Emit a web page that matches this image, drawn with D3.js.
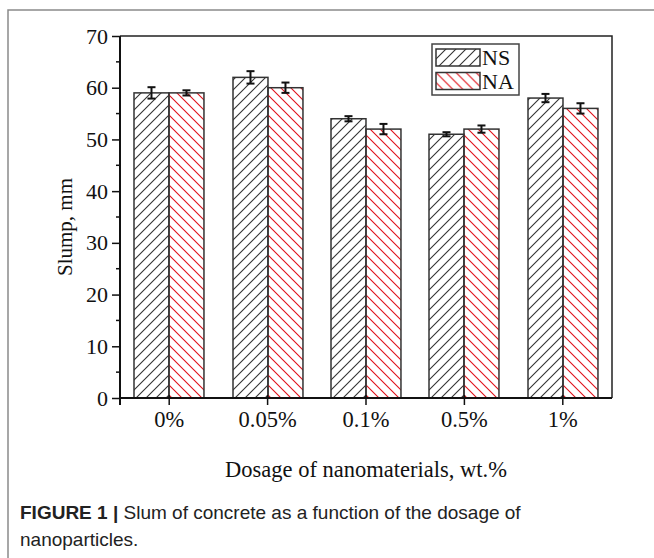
<!DOCTYPE html>
<html>
<head>
<meta charset="utf-8">
<script src="https://cdn.jsdelivr.net/npm/d3@7/dist/d3.min.js"></script>
<style>
  html, body { margin: 0; padding: 0; background: #fff; }
  svg { display: block; }
</style>
</head>
<body>
<script>
const categories = ["0%", "0.05%", "0.1%", "0.5%", "1%"];
const seriesNames = ["NS", "NA"];
const nsValues = [59, 62, 54, 51, 58];
const naValues = [59, 60, 52, 52, 56];
const nsErrors = [1.1, 1.2, 0.5, 0.4, 0.8];
const naErrors = [0.5, 1.0, 1.0, 0.7, 1.0];
const yTicks = [0, 10, 20, 30, 40, 50, 60, 70];
const yMinorTicks = [5, 15, 25, 35, 45, 55, 65];

const W = 654, H = 558;
const margin = { left: 120, right: 42, top: 36, bottom: 160 };
const plotL = margin.left, plotR = W - margin.right, plotT = margin.top, plotB = H - margin.bottom;

const svg = d3.select("body").append("svg").attr("width", W).attr("height", H);

// Patterns
const defs = svg.append("defs");
function hatch(id, color, dir) {
  const s = 10;
  const p = defs.append("pattern").attr("id", id).attr("patternUnits", "userSpaceOnUse")
    .attr("width", s).attr("height", s);
  const d = dir === "fwd"
    ? `M-2,2 L2,-2 M0,${s} L${s},0 M${s - 2},${s + 2} L${s + 2},${s - 2}`
    : `M-2,${s - 2} L2,${s + 2} M0,0 L${s},${s} M${s - 2},-2 L${s + 2},2`;
  p.append("path").attr("d", d).attr("stroke", color).attr("stroke-width", 1.1).attr("fill", "none");
}
hatch("hNS", "#333", "fwd");
hatch("hNA", "#e0101a", "back");

// Outer frame
svg.append("path").attr("d", `M8,${H} L8,10 L${W},10`).attr("fill", "none")
  .attr("stroke", "#8a8a8a").attr("stroke-width", 1.5);

const x0 = d3.scaleBand().domain(categories).range([plotL, plotR]).paddingInner(0.289).paddingOuter(0.1445);
const x1 = d3.scaleBand().domain(seriesNames).range([0, x0.bandwidth()]);
const y = d3.scaleLinear().domain([0, 70]).range([plotB, plotT]);

const data = categories.map((c, i) => ({
  cat: c,
  vals: [
    { s: "NS", v: nsValues[i], e: nsErrors[i] },
    { s: "NA", v: naValues[i], e: naErrors[i] }
  ]
}));

const g = svg.append("g");
const groups = g.selectAll("g.grp").data(data).join("g")
  .attr("transform", d => `translate(${Math.round(x0(d.cat))},0)`);

groups.selectAll("rect").data(d => d.vals).join("rect")
  .attr("x", d => x1(d.s))
  .attr("y", d => y(d.v))
  .attr("width", x1.bandwidth())
  .attr("height", d => y(0) - y(d.v))
  .attr("fill", d => d.s === "NS" ? "url(#hNS)" : "url(#hNA)")
  .attr("stroke", "#333").attr("stroke-width", 1.5);

// Error bars
const eb = groups.selectAll("g.eb").data(d => d.vals).join("g")
  .attr("stroke", "#111").attr("stroke-width", 2);
eb.append("line")
  .attr("x1", d => x1(d.s) + x1.bandwidth() / 2).attr("x2", d => x1(d.s) + x1.bandwidth() / 2)
  .attr("y1", d => y(d.v + d.e)).attr("y2", d => y(d.v - d.e));
eb.append("line")
  .attr("x1", d => x1(d.s) + x1.bandwidth() / 2 - 4).attr("x2", d => x1(d.s) + x1.bandwidth() / 2 + 4)
  .attr("y1", d => y(d.v + d.e)).attr("y2", d => y(d.v + d.e));
eb.append("line")
  .attr("x1", d => x1(d.s) + x1.bandwidth() / 2 - 4).attr("x2", d => x1(d.s) + x1.bandwidth() / 2 + 4)
  .attr("y1", d => y(d.v - d.e)).attr("y2", d => y(d.v - d.e));

// Plot border (top & right)
svg.append("path").attr("d", `M${plotL},${plotT} L${plotR},${plotT} L${plotR},${plotB}`)
  .attr("fill", "none").attr("stroke", "#222").attr("stroke-width", 1.5);

const serif = "'Liberation Serif', 'Times New Roman', serif";

// Y axis
const yAxis = svg.append("g").attr("transform", `translate(${plotL},0)`)
  .call(d3.axisLeft(y).tickValues(yTicks).tickSize(8).tickPadding(4).tickFormat(d3.format("d")));
yAxis.select(".domain").attr("stroke", "#111").attr("stroke-width", 2).attr("d", `M0,${plotT}V${plotB + 7}`);
yAxis.selectAll(".tick line").attr("stroke", "#111").attr("stroke-width", 1.5);
yAxis.selectAll(".tick text").attr("font-family", serif).attr("font-size", 22).attr("fill", "#111");
svg.append("g").attr("transform", `translate(${plotL},0)`)
  .selectAll("line").data(yMinorTicks).join("line")
  .attr("x1", -4).attr("x2", 0).attr("y1", d => y(d)).attr("y2", d => y(d))
  .attr("stroke", "#111").attr("stroke-width", 1.5);

// X axis
const xAxis = svg.append("g").attr("transform", `translate(0,${plotB})`)
  .call(d3.axisBottom(x0).tickSize(7).tickPadding(6));
xAxis.select(".domain").attr("stroke", "#111").attr("stroke-width", 2).attr("d", `M${plotL},0H${plotR}`);
xAxis.selectAll(".tick line").attr("stroke", "#111").attr("stroke-width", 1.5).attr("y1", -3);
xAxis.selectAll(".tick text").attr("font-family", serif).attr("font-size", 22.5).attr("fill", "#111");

// Axis titles
svg.append("text").attr("x", (plotL + plotR) / 2).attr("y", 477).attr("text-anchor", "middle")
  .attr("font-family", serif).attr("font-size", 22.5).attr("fill", "#111")
  .text("Dosage of nanomaterials, wt.%");
svg.append("text").attr("transform", `translate(72,227) rotate(-90)`)
  .attr("text-anchor", "middle").attr("font-family", serif).attr("font-size", 21).attr("fill", "#111")
  .text("Slump, mm");

// Legend
const lg = svg.append("g");
lg.append("rect").attr("x", 432).attr("y", 44).attr("width", 87).attr("height", 51)
  .attr("fill", "#fff").attr("stroke", "#444").attr("stroke-width", 1.5);
const li = lg.selectAll("g.li").data(seriesNames).join("g")
  .attr("transform", (d, i) => `translate(436,${49 + i * 23.5})`);
li.append("rect").attr("width", 44).attr("height", 17)
  .attr("fill", d => d === "NS" ? "url(#hNS)" : "url(#hNA)")
  .attr("stroke", "#333").attr("stroke-width", 1.5);
li.append("text").attr("x", 46).attr("y", 16).attr("font-family", serif).attr("font-size", 22)
  .attr("fill", "#111").text(d => d);

// Caption
const sans = "'Liberation Sans', Arial, sans-serif";
const cap = svg.append("text").attr("x", 20).attr("y", 519).attr("font-family", sans)
  .attr("font-size", 19).attr("fill", "#222");
cap.append("tspan").attr("font-weight", "bold").text("FIGURE 1 | ");
cap.append("tspan").text("Slum of concrete as a function of the dosage of");
svg.append("text").attr("x", 20).attr("y", 546).attr("font-family", sans)
  .attr("font-size", 19).attr("fill", "#222").text("nanoparticles.");
</script>
</body>
</html>
